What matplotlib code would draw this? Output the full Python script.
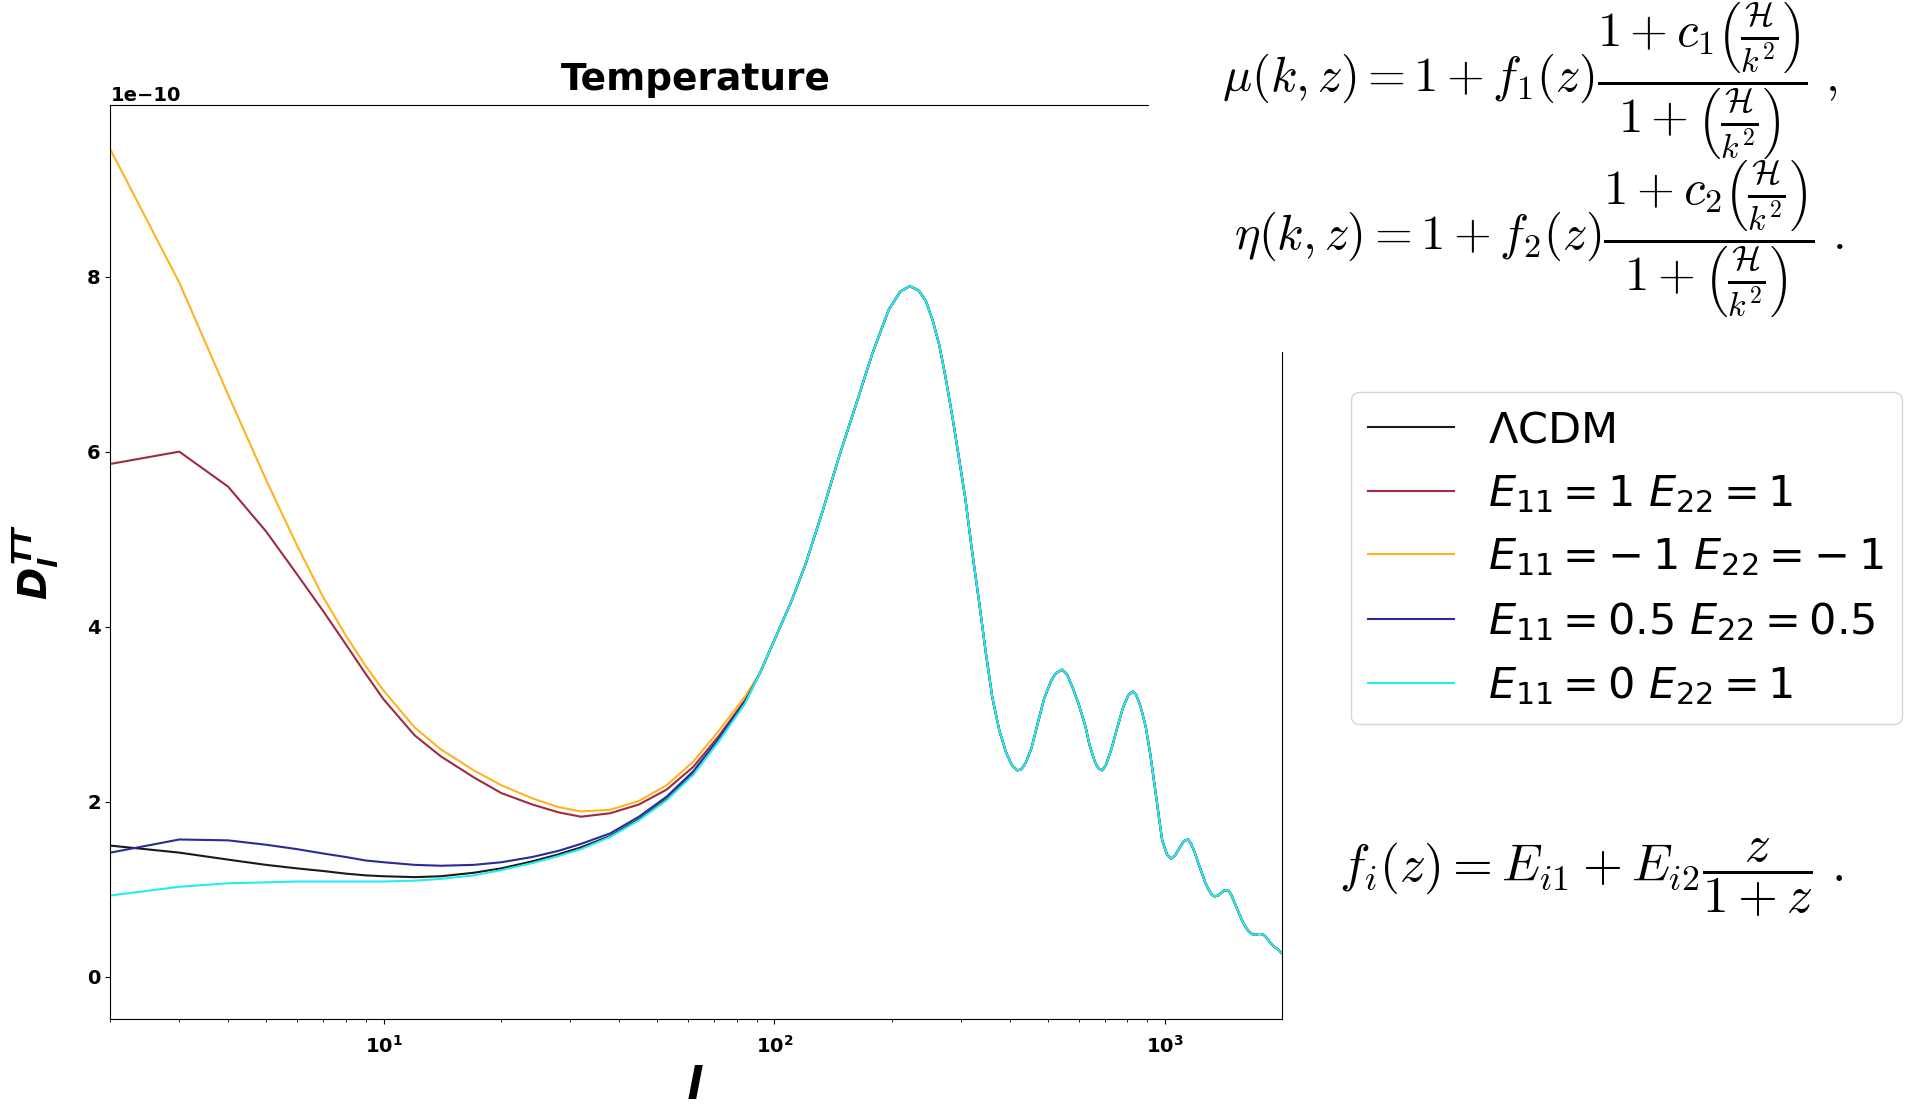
import numpy as np
import matplotlib
matplotlib.use('Agg')
import matplotlib.pyplot as plt
from matplotlib.patches import Rectangle
from matplotlib.ticker import FuncFormatter, FixedLocator

# bold italic glyphs for the axis labels (used through math_fontfamily='custom')
plt.rcParams['mathtext.it'] = 'DejaVu Sans:italic:bold'
plt.rcParams['mathtext.rm'] = 'DejaVu Sans:bold'
plt.rcParams['mathtext.bf'] = 'DejaVu Sans:bold'

# multipoles where the models still differ (plotted at integer l at the low end)
ell_low = [2, 3, 4, 5, 6, 7, 8, 9, 10, 12, 14, 17, 20, 24, 28, 32, 38, 45, 53, 62, 72, 84]

# D_l^TT in units of 1e-10 for each model on ell_low
dl_lcdm_low = [1.50, 1.42, 1.34, 1.28, 1.24, 1.21, 1.18, 1.16, 1.15, 1.14, 1.15, 1.19,
               1.24, 1.32, 1.40, 1.48, 1.61, 1.80, 2.03, 2.32, 2.70, 3.13]
dl_e1_low = [5.86, 6.00, 5.60, 5.09, 4.60, 4.18, 3.80, 3.46, 3.17, 2.76, 2.52, 2.28,
             2.10, 1.97, 1.88, 1.83, 1.87, 1.97, 2.14, 2.40, 2.75, 3.16]
dl_em1_low = [9.45, 7.93, 6.65, 5.68, 4.93, 4.34, 3.90, 3.55, 3.27, 2.85, 2.60, 2.36,
              2.19, 2.04, 1.94, 1.89, 1.91, 2.01, 2.19, 2.46, 2.81, 3.20]
dl_e05_low = [1.42, 1.57, 1.56, 1.51, 1.46, 1.41, 1.37, 1.33, 1.31, 1.28, 1.27, 1.28,
              1.31, 1.37, 1.44, 1.52, 1.64, 1.83, 2.06, 2.35, 2.72, 3.14]
dl_e0_low = [0.93, 1.03, 1.07, 1.08, 1.09, 1.09, 1.09, 1.09, 1.09, 1.10, 1.12, 1.16,
             1.22, 1.30, 1.38, 1.46, 1.60, 1.79, 2.02, 2.31, 2.69, 3.12]

# acoustic peaks, identical for all models
ell_high = [92, 100, 110, 120, 133, 146, 162, 178, 196, 210, 222, 234, 244, 254, 264,
            274, 285, 296, 308, 320, 334, 347, 361, 376, 391, 405, 418, 428, 440, 455,
            475, 490, 510, 525, 545, 560, 580, 600, 625, 640, 660, 675, 690, 705, 730,
            755, 780, 805, 826, 843, 860, 875, 891, 915, 945, 965, 982, 1010, 1035, 1060,
            1090, 1115, 1143, 1165, 1190, 1215, 1242, 1265, 1290, 1315, 1339, 1365, 1390,
            1420, 1448, 1475, 1500, 1520, 1543, 1570, 1600, 1635, 1668, 1700, 1730, 1760,
            1787, 1815, 1850, 1885, 1920, 1955, 1990]
dl_high = [3.48, 3.85, 4.27, 4.71, 5.33, 5.93, 6.55, 7.12, 7.62, 7.83, 7.89, 7.84, 7.72,
           7.50, 7.22, 6.85, 6.41, 5.95, 5.46, 4.88, 4.28, 3.72, 3.19, 2.82, 2.57, 2.42,
           2.36, 2.37, 2.45, 2.62, 2.95, 3.18, 3.38, 3.47, 3.51, 3.46, 3.30, 3.12, 2.86,
           2.65, 2.46, 2.38, 2.36, 2.42, 2.62, 2.86, 3.08, 3.22, 3.26, 3.22, 3.12, 3.00,
           2.86, 2.55, 2.10, 1.80, 1.56, 1.40, 1.35, 1.39, 1.48, 1.55, 1.57, 1.52, 1.42,
           1.30, 1.18, 1.08, 1.00, 0.94, 0.92, 0.93, 0.96, 0.99, 0.99, 0.94, 0.86, 0.80,
           0.73, 0.65, 0.58, 0.52, 0.49, 0.48, 0.49, 0.49, 0.48, 0.45, 0.40, 0.36, 0.33,
           0.30, 0.27]

labels = [r'$\Lambda$CDM', r'$E_{11}=1$ $E_{22}=1$', r'$E_{11}=-\:1$ $E_{22}=-\:1$',
          r'$E_{11}=0.5$ $E_{22}=0.5$', r'$E_{11}=0$ $E_{22}=1$']
colors = ['#1a1a1a', '#a02a40', '#ffb320', '#2a2a9a', '#22eef0']
series = [dl_lcdm_low, dl_e1_low, dl_em1_low, dl_e05_low, dl_e0_low]

ell = np.array(ell_low + ell_high, dtype=float)

fig = plt.figure(figsize=(19.05, 11.06), dpi=100)
ax = fig.add_axes([0.058, 0.0787, 0.615, 0.826])

for vals, c, lab in zip(series, colors, labels):
    dl = np.array(vals + dl_high) * 1e-10
    ax.plot(ell, dl, color=c, lw=1.5, label=lab)

ax.set_xscale('log')
ax.set_xlim(ell[0], ell[-1])
ax.set_ylim(-0.48e-10, 9.955e-10)
ax.yaxis.set_major_locator(FixedLocator([0, 2e-10, 4e-10, 6e-10, 8e-10]))
ax.xaxis.set_major_formatter(FuncFormatter(
    lambda x, pos: r'$\mathbf{10^{%d}}$' % round(np.log10(x))))

ax.tick_params(axis='both', labelsize=14)
ax.tick_params(axis='x', which='major', pad=8)
for t in ax.get_yticklabels():
    t.set_fontweight('bold')
ax.yaxis.get_offset_text().set_fontweight('bold')
ax.yaxis.get_offset_text().set_fontsize(14)

ax.set_title('Temperature', fontsize=27, fontweight='bold', pad=11)
ax.set_ylabel(r'$D_l^{TT}$', fontsize=28, math_fontfamily='custom')
ax.yaxis.set_label_coords(-0.042, 0.5)
ax.set_xlabel(r'$l$', fontsize=32, math_fontfamily='custom')
ax.xaxis.set_label_coords(0.4987, -0.05)

ax.legend(loc='upper left', bbox_to_anchor=(0.709, 0.6456),
          bbox_transform=fig.transFigure, fontsize=31, borderaxespad=0)

# equations box in the upper right corner
fig.add_artist(Rectangle((0.603, 0.682), 0.4, 0.32, transform=fig.transFigure,
                         facecolor='white', edgecolor='none', zorder=2))

eq_mu = (r'$\mu(k,z)=1+f_1(z)\dfrac{1+c_1\left(\frac{\mathcal{H}}{k^2}\right)}'
         r'{1+\left(\frac{\mathcal{H}}{k^2}\right)}\ ,$')
eq_eta = (r'$\eta(k,z)=1+f_2(z)\dfrac{1+c_2\left(\frac{\mathcal{H}}{k^2}\right)}'
          r'{1+\left(\frac{\mathcal{H}}{k^2}\right)}\ .$')
eq_f = r'$f_i(z)=E_{i1}+E_{i2}\dfrac{z}{1+z}\ .$'

fig.text(0.803, 0.927, eq_mu, fontsize=35, math_fontfamily='cm',
         ha='center', va='center', zorder=3)
fig.text(0.808, 0.784, eq_eta, fontsize=35, math_fontfamily='cm',
         ha='center', va='center', zorder=3)
fig.text(0.703, 0.206, eq_f, fontsize=37, math_fontfamily='cm',
         ha='left', va='center', zorder=3)

fig.savefig('out.png', dpi=100)
